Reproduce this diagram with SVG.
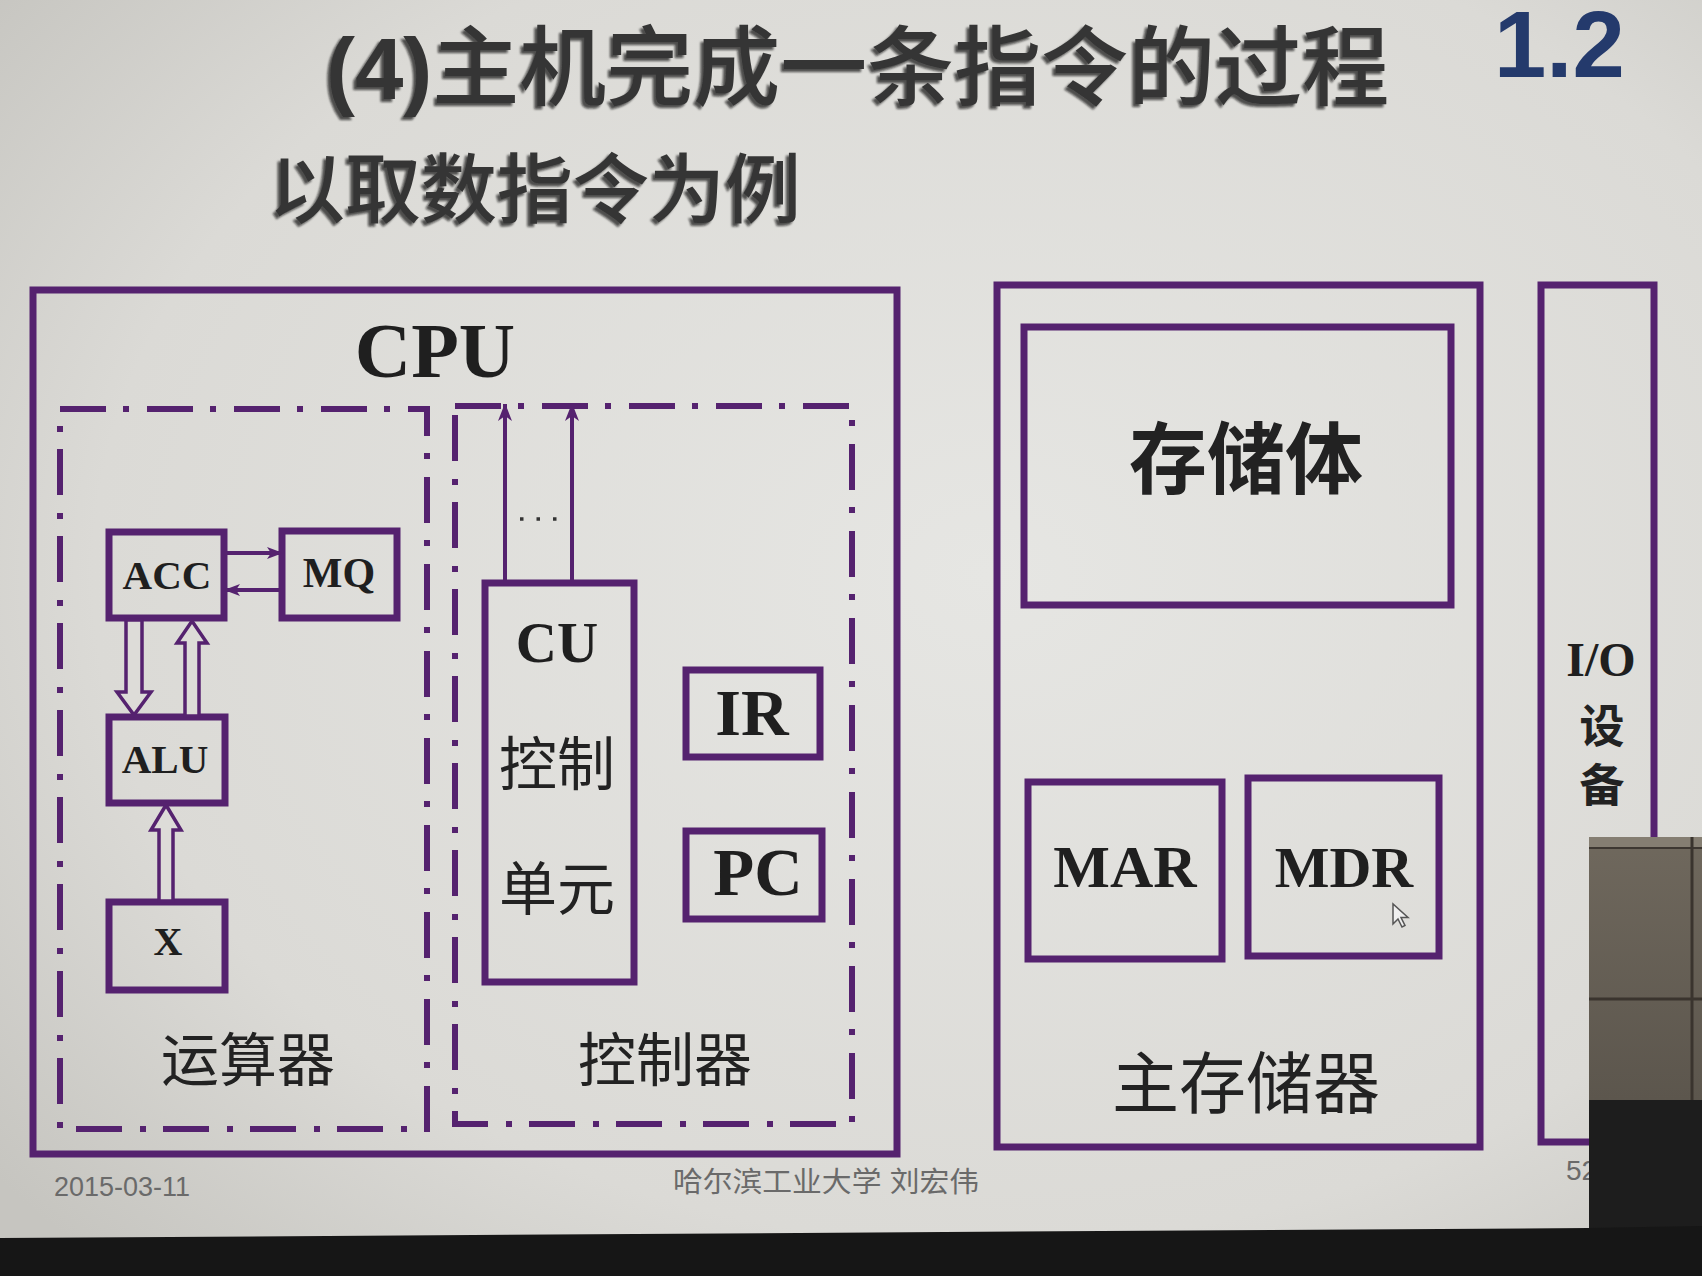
<svg xmlns="http://www.w3.org/2000/svg" width="1702" height="1276" viewBox="0 0 1702 1276">
  <defs>
    <radialGradient id="screen" cx="0.58" cy="0.45" r="0.75">
      <stop offset="0" stop-color="#e6e6e3"/>
      <stop offset="0.7" stop-color="#dbdad6"/>
      <stop offset="1" stop-color="#c6c5c0"/>
    </radialGradient>
    <linearGradient id="panel" x1="0" y1="0" x2="0" y2="1">
      <stop offset="0" stop-color="#6f685d"/>
      <stop offset="1" stop-color="#5c564d"/>
    </linearGradient>
    <filter id="shade" x="-5%" y="-20%" width="110%" height="140%">
      <feDropShadow dx="-3" dy="3" stdDeviation="1.2" flood-color="#0d0d0d" flood-opacity="0.7"/>
    </filter>
    <marker id="head" markerWidth="16" markerHeight="12" refX="15" refY="6" orient="auto" markerUnits="userSpaceOnUse">
      <path d="M0,0 L16,6 L0,12 L4,6 z" fill="#55226f"/>
    </marker>
    <marker id="headUp" markerWidth="14" markerHeight="18" refX="17" refY="7" orient="auto" markerUnits="userSpaceOnUse">
      <path d="M0,0 L18,7 L0,14 L5,7 z" fill="#55226f"/>
    </marker>
  </defs>
  <style>
    .box { fill: none; stroke: #55226f; stroke-width: 7; }
    .dash { fill: none; stroke: #55226f; stroke-width: 6; stroke-dasharray: 46 17 6 18; }
    .wire { fill: none; stroke: #55226f; stroke-width: 4; }
    .hollow { fill: #dddcd8; stroke: #55226f; stroke-width: 3.5; stroke-linejoin: miter; }
    .lat { font-family: "Liberation Serif", "Times New Roman", serif; font-weight: bold; fill: #1f1f1f; text-anchor: middle; }
    .cjk { font-family: "Noto Sans CJK SC", "Noto Sans", sans-serif; fill: #222; text-anchor: middle; }
    .head { font-family: "Liberation Sans", "Noto Sans CJK SC", sans-serif; fill: #363636; }
    .foot { font-family: "Liberation Sans", "Noto Sans CJK SC", sans-serif; fill: #6a6a6a; }
  </style>

  <!-- projected slide background -->
  <rect x="0" y="0" width="1702" height="1276" fill="url(#screen)"/>

  <!-- headings -->
  <g id="title" filter="url(#shade)">
    <text class="head" x="326" y="99" font-size="87"><tspan font-weight="bold">(4)</tspan><tspan font-family="Noto Sans CJK SC, sans-serif" font-weight="500">主机完成一条指令的过程</tspan></text>
    <text class="head" x="269" y="217" font-size="76" font-weight="500" font-family="Noto Sans CJK SC, sans-serif">以取数指令为例</text>
  </g>
  <text id="section" x="1494" y="77" font-family="Liberation Sans, sans-serif" font-weight="bold" font-size="94" fill="#243a6c">1.2</text>

  <!-- CPU -->
  <g id="cpu">
    <rect class="box" x="33" y="290" width="864" height="864"/>
    <text class="lat" x="435" y="377" font-size="78">CPU</text>
  </g>

  <!-- arithmetic unit -->
  <g id="alu-unit">
    <rect class="dash" x="60" y="409" width="367" height="720"/>
    <text class="cjk" x="248" y="1081" font-size="58">运算器</text>
  </g>
  <g id="acc">
    <rect class="box" x="109" y="532" width="115" height="86" stroke-width="5"/>
    <text class="lat" x="167" y="589" font-size="41">ACC</text>
  </g>
  <g id="mq">
    <rect class="box" x="282" y="531" width="115" height="87" stroke-width="5"/>
    <text class="lat" x="339" y="587" font-size="42">MQ</text>
  </g>
  <g id="alu">
    <rect class="box" x="109" y="717" width="116" height="86" stroke-width="5"/>
    <text class="lat" x="165" y="773" font-size="41">ALU</text>
  </g>
  <g id="x">
    <rect class="box" x="109" y="902" width="116" height="88" stroke-width="5"/>
    <text class="lat" x="168" y="955" font-size="40">X</text>
  </g>

  <!-- control unit -->
  <g id="controller">
    <rect class="dash" x="455" y="406" width="397" height="718"/>
    <text class="cjk" x="665" y="1081" font-size="58">控制器</text>
  </g>
  <g id="cu">
    <rect class="box" x="485" y="583" width="149" height="399" stroke-width="5"/>
    <text class="lat" x="557" y="662" font-size="57">CU</text>
    <text class="cjk" x="557" y="785" font-size="58">控制</text>
    <text class="cjk" x="557" y="910" font-size="58">单元</text>
  </g>
  <g id="ir">
    <rect class="box" x="686" y="670" width="134" height="87" stroke-width="5"/>
    <text class="lat" x="752" y="735" font-size="66">IR</text>
  </g>
  <g id="pc">
    <rect class="box" x="686" y="831" width="136" height="88" stroke-width="5"/>
    <text class="lat" x="758" y="895" font-size="67">PC</text>
  </g>

  <!-- main memory -->
  <g id="memory">
    <rect class="box" x="997" y="285" width="483" height="862"/>
    <text class="cjk" x="1246" y="1108" font-size="67">主存储器</text>
  </g>
  <g id="storage">
    <rect class="box" x="1024" y="327" width="427" height="278" stroke-width="6"/>
    <text class="cjk" x="1246" y="488" font-size="78" font-weight="bold">存储体</text>
  </g>
  <g id="mar">
    <rect class="box" x="1028" y="782" width="194" height="177" stroke-width="6"/>
    <text class="lat" x="1125" y="887" font-size="60">MAR</text>
  </g>
  <g id="mdr">
    <rect class="box" x="1248" y="778" width="191" height="178" stroke-width="6"/>
    <text class="lat" x="1344" y="887" font-size="58">MDR</text>
  </g>

  <!-- I/O devices -->
  <g id="io">
    <rect class="box" x="1541" y="285" width="113" height="857"/>
    <text class="lat" x="1601" y="676" font-size="48">I/O</text>
    <text class="cjk" x="1602" y="743" font-size="45" font-weight="bold">设</text>
    <text class="cjk" x="1602" y="802" font-size="45" font-weight="bold">备</text>
  </g>

  <!-- connectors -->
  <g id="connectors">
    <line class="wire" x1="224" y1="553" x2="282" y2="553" marker-end="url(#head)"/>
    <line class="wire" x1="282" y1="590" x2="225" y2="590" marker-end="url(#head)"/>
    <polygon class="hollow" points="126,620 126,692 117,692 134,715 151,692 142,692 142,620"/>
    <polygon class="hollow" points="185,716 185,643 177,643 192,621 207,643 199,643 199,716"/>
    <polygon class="hollow" points="159,901 159,830 151,830 166,805 181,830 173,830 173,901"/>
    <line class="wire" x1="505" y1="581" x2="505" y2="404" marker-end="url(#headUp)"/>
    <line class="wire" x1="572" y1="581" x2="572" y2="404" marker-end="url(#headUp)"/>
    <line x1="520" y1="519" x2="566" y2="519" stroke="#333" stroke-width="3.5" stroke-dasharray="3.5 13"/>
  </g>

  <!-- pointer on the screen -->
  <path d="M1393,904 l0,20 l5,-5 l4,8 l3,-1.5 l-4,-8 l7,0 z" fill="#efefef" stroke="#555" stroke-width="1.5"/>

  <!-- footer -->
  <text class="foot" x="54" y="1196" font-size="28" textLength="136" lengthAdjust="spacingAndGlyphs">2015-03-11</text>
  <text class="foot" x="673" y="1192" font-size="28" textLength="306" lengthAdjust="spacingAndGlyphs">哈尔滨工业大学  刘宏伟</text>
  <text class="foot" x="1566" y="1180" font-size="28">52</text>

  <!-- object in front of the screen -->
  <rect x="1589" y="837" width="113" height="263" fill="url(#panel)"/>
  <rect x="1589" y="837" width="113" height="11" fill="#857e72"/>
  <line x1="1589" y1="848" x2="1702" y2="848" stroke="#3d3731" stroke-width="2"/>
  <line x1="1589" y1="999" x2="1702" y2="999" stroke="#3a342e" stroke-width="3"/>
  <line x1="1692" y1="837" x2="1692" y2="1100" stroke="#3a342e" stroke-width="3"/>
  <rect x="1589" y="1100" width="113" height="176" fill="#1d1d1d"/>

  <!-- room below the screen -->
  <polygon points="0,1238 1589,1228 1702,1226 1702,1276 0,1276" fill="#161616"/>
</svg>
